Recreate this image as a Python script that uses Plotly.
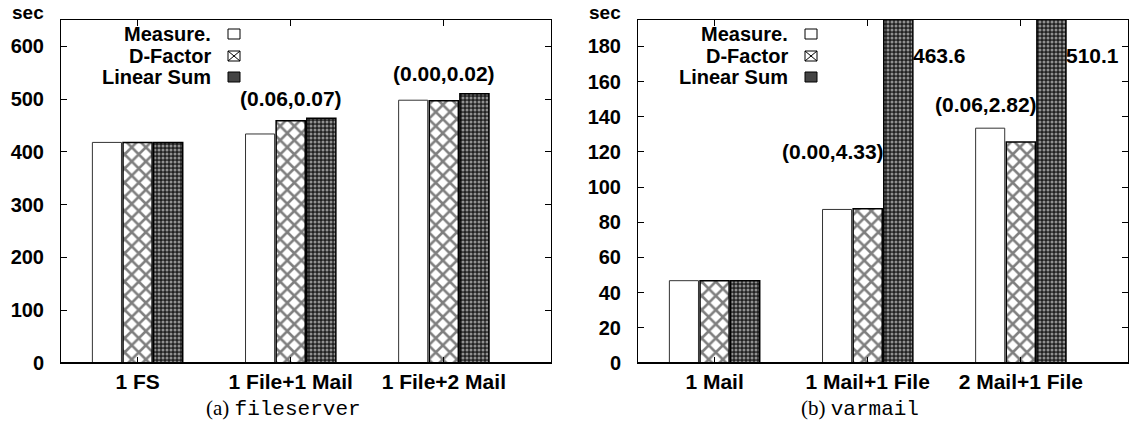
import plotly.graph_objects as go

W, H = 1134, 428

# ---- data -------------------------------------------------------------
series_names = ["Measure.", "D-Factor", "Linear Sum"]

fs_categories = ["1 FS", "1 File+1 Mail", "1 File+2 Mail"]
fs_measured = [418, 434, 498]
fs_dfactor = [418, 459, 497]
fs_linear = [418, 463.6, 510.1]
fs_error_labels = ["", "(0.06,0.07)", "(0.00,0.02)"]
fs_yticks = [0, 100, 200, 300, 400, 500, 600]

vm_categories = ["1 Mail", "1 Mail+1 File", "2 Mail+1 File"]
vm_measured = [46.8, 87.3, 133.5]
vm_dfactor = [46.8, 87.7, 125.7]
vm_linear = [46.8, 463.6, 510.1]
vm_error_labels = ["", "(0.00,4.33)", "(0.06,2.82)"]
vm_yticks = [0, 20, 40, 60, 80, 100, 120, 140, 160, 180]

captions = ["(a) ", "(b) "]
caption_names = ["fileserver", "varmail"]

# ---- styling ------------------------------------------------------------
SANS = "Liberation Sans"
BOLD = dict(family=SANS, size=20, color="black", weight="bold")

bar_styles = [
    dict(color="white", line=dict(color="#333333", width=1)),
    dict(color="white", line=dict(color="black", width=1.5),
         pattern=dict(shape="x", size=10, solidity=0.45,
                      fgcolor="black", bgcolor="white")),
    # dense checker: white dots on a black ground
    dict(color="black", line=dict(color="black", width=1.5),
         pattern=dict(shape=".", size=4, solidity=0.45,
                      fgcolor="white", bgcolor="#222222")),
]


def px_x(x):
    return x / W


def px_y(y):
    return 1 - y / H


# plot-area geometry (pixels) of the two panels
PANEL_LEFT = [61, 638]
PANEL_WIDTH = 490
TOP, BOTTOM = 20, 363

fig = go.Figure()

panels = [
    (fs_categories, [fs_measured, fs_dfactor, fs_linear], fs_yticks, [0, 650], "", ""),
    (vm_categories, [vm_measured, vm_dfactor, vm_linear], vm_yticks, [0, 195], "2", "2"),
]

for p, (cats, values, yticks, yrange, xs, ys) in enumerate(panels):
    for name, vals, style in zip(series_names, values, bar_styles):
        fig.add_trace(go.Bar(
            x=cats, y=vals, name=name, marker=style,
            xaxis="x" + xs, yaxis="y" + ys, showlegend=False,
            cliponaxis=True,
        ))
    left = PANEL_LEFT[p]
    fig.layout["xaxis" + xs] = dict(
        domain=[px_x(left), px_x(left + PANEL_WIDTH)],
        anchor="y" + ys, type="category", range=[-0.5, 2.7],
        showline=True, linecolor="black", linewidth=1, mirror="allticks",
        ticks="inside", ticklen=6, tickcolor="black", showgrid=False,
        tickfont=dict(BOLD, size=21), ticklabelstandoff=0, zeroline=False,
        fixedrange=True, automargin=False,
    )
    fig.layout["yaxis" + ys] = dict(
        domain=[px_y(BOTTOM), px_y(TOP)],
        anchor="x" + xs, range=yrange, tickvals=yticks,
        showline=True, linecolor="black", linewidth=1, mirror="allticks",
        ticks="inside", ticklen=6, tickcolor="black", showgrid=False,
        tickfont=BOLD, ticklabelstandoff=12, zeroline=False,
        fixedrange=True, automargin=False,
    )
    # heavier baseline
    fig.add_shape(type="line", xref="x" + xs + " domain", yref="y" + ys + " domain",
                  x0=0, x1=1, y0=0, y1=0, line=dict(color="black", width=2))

    # "sec" unit label above the y axis
    fig.add_annotation(text="sec", xref="paper", yref="paper",
                       x=px_x(left - 33), y=px_y(12), showarrow=False,
                       font=dict(BOLD, size=19), xanchor="center", yanchor="middle")

    # legend: right-aligned names followed by a small swatch
    rows = [34, 56, 77]
    text_right = left + 152
    sw0, sw1 = left + 167, left + 179
    for r, (name, y) in enumerate(zip(series_names, rows)):
        fig.add_annotation(text=name, xref="paper", yref="paper",
                           x=px_x(text_right), y=px_y(y), showarrow=False,
                           font=BOLD, xanchor="right", yanchor="middle")
        fill = ["white", "white", "#444444"][r]
        fig.add_shape(type="rect", xref="paper", yref="paper",
                      x0=px_x(sw0), x1=px_x(sw1), y0=px_y(y + 5), y1=px_y(y - 5),
                      fillcolor=fill, line=dict(color="black", width=1))
        if r == 1:
            for a, b in [(y + 5, y - 5), (y - 5, y + 5)]:
                fig.add_shape(type="line", xref="paper", yref="paper",
                              x0=px_x(sw0), x1=px_x(sw1), y0=px_y(a), y1=px_y(b),
                              line=dict(color="black", width=1))

    # subfigure caption
    fig.add_annotation(
        text=captions[p] + "<span style='font-family:Liberation Mono'>"
        + caption_names[p] + "</span>",
        xref="paper", yref="paper", x=px_x([283, 860][p]), y=px_y(408),
        showarrow=False, xanchor="center", yanchor="middle",
        font=dict(family="Liberation Serif", size=21, color="black"))

# error labels on the fileserver panel, centred over each group
for i, lab in enumerate(fs_error_labels):
    if lab:
        top = max(fs_measured[i], fs_dfactor[i], fs_linear[i])
        fig.add_annotation(text=lab, x=i, y=top, xref="x", yref="y",
                           showarrow=False, font=dict(BOLD, size=21),
                           yanchor="middle", yshift=20)

# varmail panel: error labels left of the clipped linear-sum bars
vm_label_y = [0, 120, 147]
for i, lab in enumerate(vm_error_labels):
    if lab:
        fig.add_annotation(text=lab, x=i + 0.12, y=vm_label_y[i], xref="x2", yref="y2",
                           showarrow=False, font=dict(BOLD, size=21), xanchor="right",
                           yanchor="middle")
        # value of the clipped linear-sum bar, printed beside it
        fig.add_annotation(text=f"{vm_linear[i]:.1f}", x=i + 0.28, y=175,
                           xref="x2", yref="y2", showarrow=False,
                           font=dict(BOLD, size=21),
                           xanchor="left", yanchor="middle")

fig.update_layout(
    width=W, height=H, margin=dict(l=0, r=0, t=0, b=0),
    paper_bgcolor="white", plot_bgcolor="white",
    barmode="group", bargap=0.4, bargroupgap=0.05,
    font=dict(family=SANS, color="black"),
)

fig.write_html("out.html")
